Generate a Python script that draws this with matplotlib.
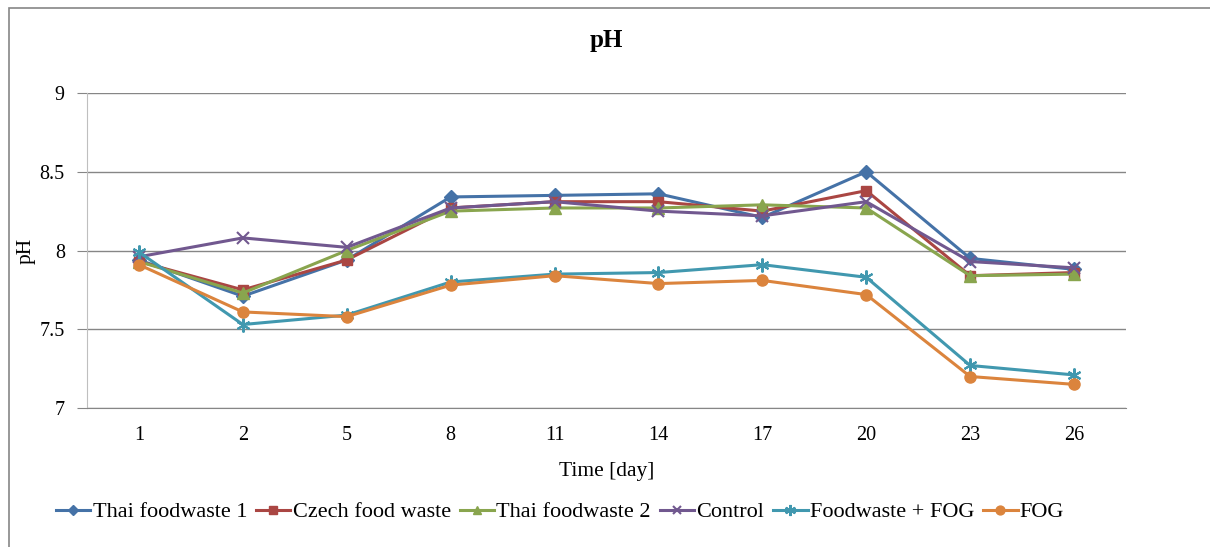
import matplotlib
matplotlib.use("Agg")
import matplotlib.pyplot as plt
from matplotlib.patches import Rectangle

plt.rcParams["font.family"] = ["Liberation Serif", "DejaVu Serif"]

days = ["1", "2", "5", "8", "11", "14", "17", "20", "23", "26"]

thai_fw1 = [7.94, 7.71, 7.94, 8.34, 8.35, 8.36, 8.21, 8.50, 7.95, 7.88]
czech_fw = [7.93, 7.75, 7.94, 8.27, 8.31, 8.31, 8.25, 8.38, 7.84, 7.86]
thai_fw2 = [7.93, 7.73, 8.00, 8.25, 8.27, 8.27, 8.29, 8.27, 7.84, 7.85]
control = [7.96, 8.08, 8.02, 8.27, 8.31, 8.25, 8.22, 8.31, 7.93, 7.89]
fw_fog = [7.99, 7.53, 7.59, 7.80, 7.85, 7.86, 7.91, 7.83, 7.27, 7.21]
fog = [7.91, 7.61, 7.58, 7.78, 7.84, 7.79, 7.81, 7.72, 7.20, 7.15]

series = [
    ("Thai foodwaste 1", thai_fw1, "#4572A7", "D", 7),
    ("Czech food waste", czech_fw, "#AA4643", "s", 7),
    ("Thai foodwaste 2", thai_fw2, "#89A54E", "^", 8),
    ("Control", control, "#71588F", "x", 8),
    ("Foodwaste + FOG", fw_fog, "#4198AF", (6, 2, 0), 10),
    ("FOG", fog, "#DB843D", "o", 8),
]

W, H = 1210, 547
fs = 15.5
tick_fs = 14.5
fig = plt.figure(figsize=(W / 100, H / 100), dpi=100)
ax = fig.add_axes([87 / W, 1 - 408 / H, (1126 - 87) / W, (408 - 93) / H])

x = range(len(days))
for name, vals, color, marker, ms in series:
    mew = 1.5 if marker in ("x", (6, 2, 0)) else 1
    ax.plot(x, vals, color=color, lw=2.2, marker=marker, ms=ms,
            mew=mew, mec=color, mfc=color, label=name)

ax.set_xlim(-0.5, len(days) - 0.5)
ax.set_ylim(7, 9)
ax.set_yticks([7, 7.5, 8, 8.5, 9])
ax.set_yticklabels(["7", "7.5", "8", "8.5", "9"])
ax.set_xticks(list(x))
ax.set_xticklabels(days)
ax.tick_params(axis="y", length=7, color="#868686", labelsize=tick_fs, pad=9)
ax.tick_params(axis="x", length=0, labelsize=tick_fs, pad=13)
ax.grid(axis="y", color="#868686", lw=1)
ax.set_axisbelow(True)
for side in ("top", "right"):
    ax.spines[side].set_visible(False)
ax.spines["left"].set_color("#bfbfbf")
ax.spines["bottom"].set_color("#868686")

ax.set_title("pH", fontsize=18, fontweight="bold", pad=33)
ax.set_ylabel("pH", fontsize=fs, labelpad=3)
ax.set_xlabel("Time [day]", fontsize=fs, labelpad=12)

fig.legend(loc="center", bbox_to_anchor=(560 / W, 1 - 512 / H), ncol=6,
           frameon=False, fontsize=16, handlelength=1.55, handletextpad=0.1,
           columnspacing=0.4, borderaxespad=0, markerscale=0.8)

# outer chart frame
fig.patches.append(Rectangle((9 / W, -0.1), 1.2, 1 - 7.5 / H + 0.1,
                             transform=fig.transFigure, fill=False,
                             ec="#868686", lw=1.2))

fig.savefig("out.png", dpi=100)
